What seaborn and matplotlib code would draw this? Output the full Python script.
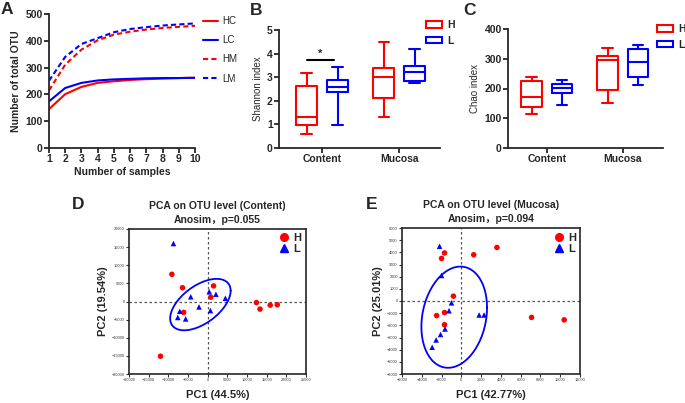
import numpy as np
import pandas as pd
import matplotlib.pyplot as plt
import seaborn as sns
from matplotlib.patches import Patch
from matplotlib.lines import Line2D

# ---- data ----
samples = [1, 2, 3, 4, 5, 6, 7, 8, 9, 10]
otu_hc = [145, 201, 228, 243, 249, 254, 257, 259, 261, 262]
otu_lc = [174, 224, 243, 252, 256, 258, 260, 261, 261, 262]
otu_hm = [215, 311, 367, 402, 423, 434, 442, 448, 452, 456]
otu_lm = [251, 340, 388, 410, 432, 444, 451, 457, 461, 465]

sites = ['Content', 'Mucosa']
groups = ['H', 'L']
# min, q1, median, q3, max
shannon = {('Content', 'H'): [0.59, 0.99, 1.30, 2.61, 3.17],
           ('Content', 'L'): [0.97, 2.38, 2.58, 2.89, 3.42],
           ('Mucosa', 'H'): [1.30, 2.10, 2.99, 3.38, 4.48],
           ('Mucosa', 'L'): [2.77, 2.85, 3.21, 3.46, 4.20]}
chao = {('Content', 'H'): [113, 139, 172, 226, 237],
        ('Content', 'L'): [143, 186, 201, 214, 229],
        ('Mucosa', 'H'): [150, 195, 295, 308, 336],
        ('Mucosa', 'L'): [212, 240, 288, 332, 345]}

content_h_pc1 = [-9100, -6400, 1500, 800, -6100, -12000, 12400, 13300, 15900, 17700]
content_h_pc2 = [7500, 3800, 4300, 1200, -3000, -15100, -300, -2100, -1000, -900]
content_l_pc1 = [-8700, -4300, 400, 2100, 4500, -2200, 700, -7100, -7600, -5600]
content_l_pc2 = [16000, 1300, 2700, 2000, 900, -1500, -2500, -2700, -4400, -4800]
content_ell = (-1850, -850, 7690, 7100, 0.537)   # cx, cy, sx, sy, rho

mucosa_h_pc1 = [-1700, -2000, 1250, 3600, -800, -2500, -1700, -1700, 7100, 10400]
mucosa_h_pc2 = [3950, 3500, 3800, 4400, 400, -1200, -950, -1950, -1350, -1550]
mucosa_l_pc1 = [-2200, -2000, -1000, -1250, 1800, 2300, -1650, -2100, -2550, -2950]
mucosa_l_pc2 = [4500, 2100, -150, -800, -1150, -1150, -2300, -2750, -3200, -3800]
mucosa_ell = (-720, -1330, 3320, 4160, 0.188)

RED, BLUE = '#ff0000', '#0000ff'
pal = {'H': RED, 'L': BLUE}

sns.set_style('ticks')
plt.rcParams['font.family'] = ['Liberation Sans', 'Noto Sans CJK SC', 'DejaVu Sans']
plt.rcParams['axes.linewidth'] = 1.3
plt.rcParams['xtick.major.width'] = 1.3
plt.rcParams['ytick.major.width'] = 1.3

W, H = 685, 403
fig = plt.figure(figsize=(W / 100, H / 100), dpi=100)


def rect(l, t, r, b):
    return [l / W, 1 - b / H, (r - l) / W, (b - t) / H]


def letter(x, y, s):
    fig.text(x / W, 1 - y / H, s, fontsize=12.5, fontweight='bold', va='top', ha='left')


# ---- A: rarefaction curves ----
ax = fig.add_axes(rect(49, 14, 195, 148))
sns.lineplot(x=samples, y=otu_hc, ax=ax, color=RED, lw=1.5, label='HC')
sns.lineplot(x=samples, y=otu_lc, ax=ax, color=BLUE, lw=1.5, label='LC')
sns.lineplot(x=samples, y=otu_hm, ax=ax, color=RED, lw=1.5, label='HM', dashes=(2.5, 1.5))
sns.lineplot(x=samples, y=otu_lm, ax=ax, color=BLUE, lw=1.5, label='LM', dashes=(2.5, 1.5))
ax.set_xlim(1, 10)
ax.set_ylim(0, 500)
ax.set_xticks(samples)
ax.set_yticks(range(0, 501, 100))
ax.tick_params(labelsize=7.5, length=3.5, pad=1)
for t in ax.get_xticklabels() + ax.get_yticklabels():
    t.set_fontweight('bold')
ax.set_xlabel('Number of samples', fontsize=7.5, fontweight='bold', labelpad=2)
ax.set_ylabel('Number of total OTU', fontsize=7.5, fontweight='bold', labelpad=3)
sns.despine(ax=ax)
ax.legend(loc='upper left', bbox_to_anchor=(203 / W, 1 - 16 / H), bbox_transform=fig.transFigure,
          frameon=False, fontsize=7, handlelength=1.5, handletextpad=0.5, labelspacing=0.95,
          borderpad=0, borderaxespad=0)
letter(1, 2, 'A')


# ---- B / C: box plots ----
def box_panel(r, stats, ylim, yticks, ylabel, leg_xy, xlim):
    rows = []
    for (site, grp), vals in stats.items():
        for v in vals:
            rows.append({'site': site, 'group': grp, 'value': v})
    df = pd.DataFrame(rows)
    ax = fig.add_axes(rect(*r))
    sns.boxplot(data=df, x='site', y='value', hue='group', order=sites, hue_order=groups,
                palette=pal, fill=False, width=0.8, gap=0.32, whis=(0, 100), linewidth=1.5,
                ax=ax, legend=False)
    ax.set_ylim(*ylim)
    ax.set_xlim(*xlim)
    ax.set_yticks(yticks)
    ax.tick_params(labelsize=7.5, length=3.5, pad=1)
    for t in ax.get_xticklabels() + ax.get_yticklabels():
        t.set_fontweight('bold')
    ax.set_xlabel('')
    ax.set_ylabel(ylabel, fontsize=7, labelpad=3)
    sns.despine(ax=ax)
    handles = [Patch(facecolor='white', edgecolor=pal[g], lw=1.5, label=g) for g in groups]
    ax.legend(handles=handles, loc='upper left', bbox_to_anchor=(leg_xy[0] / W, 1 - leg_xy[1] / H),
              bbox_transform=fig.transFigure, frameon=False, handlelength=1.5, handleheight=0.6,
              handletextpad=0.5, labelspacing=0.55, borderpad=0, borderaxespad=0,
              prop={'weight': 'bold', 'size': 7.5})
    return ax


axb = box_panel((279, 30, 440, 148), shannon, (0, 5), range(0, 6), 'Shannon index',
                (426, 20), (-0.56, 1.53))
axb.plot([-0.2, 0.16], [3.73, 3.73], color='black', lw=1.5)
axb.text(-0.02, 3.78, '*', ha='center', va='bottom', fontsize=8, fontweight='bold')
letter(250, 3, 'B')

box_panel((508, 29, 663, 148), chao, (0, 400), range(0, 401, 100), 'Chao index',
          (657, 24), (-0.51, 1.53))
letter(463, 3, 'C')


# ---- D / E: PCA ----
def ellipse_xy(cx, cy, sx, sy, rho):
    t = np.linspace(0, 2 * np.pi, 200)
    x = cx + sx * np.cos(t)
    y = cy + sy * (rho * np.cos(t) + np.sqrt(1 - rho ** 2) * np.sin(t))
    return x, y


def pca_panel(r, hx, hy, lx, ly, ell, xlim, xt, ylim, yt, title, xlabel, ylabel, leg_xy):
    df = pd.DataFrame({'pc1': hx + lx, 'pc2': hy + ly,
                       'group': ['H'] * len(hx) + ['L'] * len(lx)})
    ax = fig.add_axes(rect(*r))
    ax.axhline(0, color='#555555', lw=0.9, ls=(0, (2, 2)), zorder=0)
    ax.axvline(0, color='#555555', lw=0.9, ls=(0, (2, 2)), zorder=0)
    sns.scatterplot(data=df, x='pc1', y='pc2', hue='group', style='group',
                    markers={'H': 'o', 'L': '^'}, palette=pal, s=16, linewidth=0,
                    ax=ax, legend=False, zorder=3)
    ex, ey = ellipse_xy(*ell)
    ax.plot(ex, ey, color=BLUE, lw=1.3, zorder=2)
    ax.set_xlim(*xlim)
    ax.set_ylim(*ylim)
    ax.set_xticks(xt)
    ax.set_yticks(yt)
    ax.tick_params(labelsize=2.8, length=2, width=0.8, pad=1, colors='#333333')
    for s in ax.spines.values():
        s.set_linewidth(1.2)
    ax.set_xlabel(xlabel, fontsize=8, fontweight='bold', labelpad=6)
    ax.set_ylabel(ylabel, fontsize=8, fontweight='bold', labelpad=3)
    ax.set_title(title, fontsize=7.5, fontweight='bold', linespacing=1.55, pad=4)
    handles = [Line2D([], [], marker='o', ls='', color=RED, markersize=5.5, label='H'),
               Line2D([], [], marker='^', ls='', color=BLUE, markersize=5.5, label='L')]
    ax.legend(handles=handles, loc='upper left', bbox_to_anchor=(leg_xy[0] / W, 1 - leg_xy[1] / H),
              bbox_transform=fig.transFigure, frameon=False, handlelength=0.8,
              handletextpad=0.4, labelspacing=0.05, borderpad=0, borderaxespad=0,
              prop={'weight': 'bold', 'size': 8})
    return ax


pca_panel((129, 229, 306, 374), content_h_pc1, content_h_pc2, content_l_pc1, content_l_pc2,
          content_ell, (-20000, 25000), range(-20000, 25001, 5000),
          (-20000, 20000), range(-20000, 20001, 5000),
          'PCA on OTU level (Content)\nAnosim，p=0.055', 'PC1 (44.5%)', 'PC2 (19.54%)',
          (280, 233))
letter(72, 197, 'D')

pca_panel((402, 228, 580, 374), mucosa_h_pc1, mucosa_h_pc2, mucosa_l_pc1, mucosa_l_pc2,
          mucosa_ell, (-6000, 12000), range(-6000, 12001, 2000),
          (-6000, 6000), range(-6000, 6001, 1000),
          'PCA on OTU level (Mucosa)\nAnosim，p=0.094', 'PC1 (42.77%)', 'PC2 (25.01%)',
          (555, 233))
letter(366, 197, 'E')

fig.savefig('out.png', dpi=100)
